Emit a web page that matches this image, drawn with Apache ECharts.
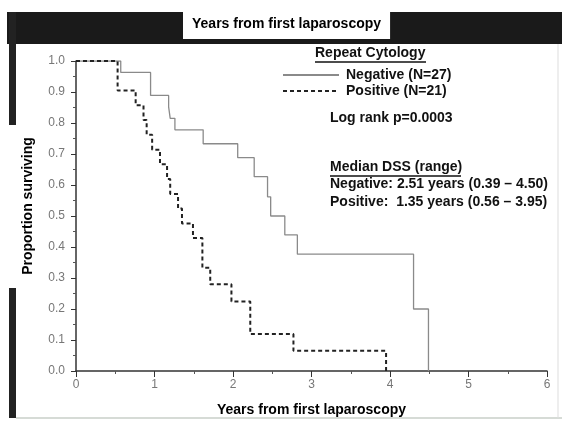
<!DOCTYPE html>
<html>
<head>
<meta charset="utf-8">
<script src="https://cdn.jsdelivr.net/npm/echarts@6/dist/echarts.min.js"></script>
<style>
  html, body { margin: 0; padding: 0; background: #fff; }
  #chart { width: 562px; height: 423px; }
</style>
</head>
<body>
<div id="chart"></div>
<script>
// Kaplan–Meier survival by repeat cytology result (years vs proportion surviving)
const negTimes  = [0, 0.57, 0.95, 1.18, 1.20, 1.26, 1.62, 2.06, 2.27, 2.44, 2.48, 2.66, 2.82, 4.30, 4.49];
const negSurv   = [1.0, 0.963, 0.889, 0.852, 0.815, 0.778, 0.733, 0.688, 0.627, 0.562, 0.500, 0.439, 0.377, 0.200, 0.0];
const posTimes  = [0, 0.53, 0.76, 0.86, 0.90, 0.97, 1.07, 1.16, 1.20, 1.30, 1.35, 1.49, 1.61, 1.71, 1.98, 2.22, 2.77, 3.95];
const posSurv   = [1.0, 0.905, 0.857, 0.810, 0.762, 0.714, 0.667, 0.619, 0.571, 0.524, 0.476, 0.429, 0.333, 0.280, 0.224, 0.119, 0.065, 0.0];
const seriesNames = ['Negative (N=27)', 'Positive (N=21)'];
const xTicks = [0, 1, 2, 3, 4, 5, 6];
const yTicks = [0.0, 0.1, 0.2, 0.3, 0.4, 0.5, 0.6, 0.7, 0.8, 0.9, 1.0];

const pairs = (xs, ys) => xs.map((x, i) => [x, ys[i]]);

const chart = echarts.init(document.getElementById('chart'), null, { renderer: 'canvas' });
const font = 'Liberation Sans, Arial, sans-serif';
const noteStyle = { fontFamily: font, fontSize: 14, fontWeight: 'bold', fill: '#111' };

chart.setOption({
  animation: false,
  backgroundColor: '#fff',
  title: {
    text: 'Years from first laparoscopy',
    left: 183, top: 9,
    padding: [8, 9, 8, 9],
    backgroundColor: '#fff',
    textStyle: { fontFamily: font, fontSize: 14, fontWeight: 'bold', color: '#000' }
  },
  legend: {
    orient: 'vertical',
    left: 277, top: 63,
    itemWidth: 56, itemHeight: 10, itemGap: 2,
    itemStyle: { opacity: 0 },
    textStyle: { fontFamily: font, fontSize: 14, fontWeight: 'bold', color: '#111', padding: [0, 0, 0, 2] },
    data: seriesNames
  },
  grid: { left: 76, top: 61, width: 471, height: 310 },
  xAxis: {
    type: 'value', min: xTicks[0], max: xTicks[xTicks.length - 1], interval: 1,
    name: 'Years from first laparoscopy', nameLocation: 'middle', nameGap: 32,
    nameTextStyle: { fontFamily: font, fontSize: 14, fontWeight: 'bold', color: '#000' },
    axisLine: { lineStyle: { color: '#333', width: 1.5 } },
    axisTick: { show: true, length: 6, lineStyle: { color: '#333' } },
    minorTick: { show: true, splitNumber: 2, length: 3, lineStyle: { color: '#555' } },
    axisLabel: { margin: 8, fontFamily: font, fontSize: 12, color: '#777' },
    splitLine: { show: false }
  },
  yAxis: {
    type: 'value', min: yTicks[0], max: yTicks[yTicks.length - 1], interval: 0.1,
    offset: 3,
    axisLine: { show: true, lineStyle: { color: '#333', width: 1.5 } },
    axisTick: { show: true, length: 5, lineStyle: { color: '#333' } },
    minorTick: { show: true, splitNumber: 2, length: 3, lineStyle: { color: '#555' } },
    axisLabel: { margin: 8, fontFamily: font, fontSize: 12, color: '#777', formatter: v => v.toFixed(1) },
    splitLine: { show: false }
  },
  series: [
    {
      name: seriesNames[0], type: 'line', step: 'end', symbol: 'none',
      data: pairs(negTimes, negSurv),
      lineStyle: { color: '#8a8a8a', width: 1.3, type: 'solid' },
      itemStyle: { color: '#8a8a8a' }
    },
    {
      name: seriesNames[1], type: 'line', step: 'end', symbol: 'none',
      data: pairs(posTimes, posSurv),
      lineStyle: { color: '#222', width: 2, type: [4, 3] },
      itemStyle: { color: '#222' }
    }
  ],
  graphic: [
    // dark frame band along the top and a strip down the left side
    { type: 'rect', z: -10, shape: { x: 7, y: 12, width: 555, height: 32 }, style: { fill: '#1a1a1a' } },
    { type: 'rect', z: -10, shape: { x: 9, y: 12, width: 7, height: 113 }, style: { fill: '#222' } },
    { type: 'rect', z: -10, shape: { x: 9, y: 288, width: 7, height: 130 }, style: { fill: '#222' } },
    { type: 'line', z: -10, shape: { x1: 16, y1: 418, x2: 562, y2: 418 }, style: { stroke: '#c8cfc8', lineWidth: 1.5 } },
    { type: 'line', z: -10, shape: { x1: 558, y1: 44, x2: 558, y2: 418 }, style: { stroke: '#ddd', lineWidth: 1 } },
    // vertical axis title
    { type: 'text', x: 28, y: 206, rotation: Math.PI / 2,
      style: { text: 'Proportion surviving', fontFamily: font, fontSize: 14, fontWeight: 'bold', fill: '#000', align: 'center', verticalAlign: 'middle' } },
    // annotation block
    { type: 'text', left: 315, top: 46, style: Object.assign({ text: 'Repeat Cytology' }, noteStyle) },
    { type: 'line', shape: { x1: 315, y1: 62, x2: 426, y2: 62 }, style: { stroke: '#111', lineWidth: 1.3 } },
    { type: 'text', left: 330, top: 111, style: Object.assign({ text: 'Log rank p=0.0003' }, noteStyle) },
    { type: 'text', left: 330, top: 160, style: Object.assign({ text: 'Median DSS (range)' }, noteStyle) },
    { type: 'line', shape: { x1: 330, y1: 176, x2: 461, y2: 176 }, style: { stroke: '#111', lineWidth: 1.3 } },
    { type: 'text', left: 330, top: 177, style: Object.assign({ text: 'Negative: 2.51 years (0.39 \u2013 4.50)' }, noteStyle) },
    { type: 'text', left: 330, top: 195, style: Object.assign({ text: 'Positive:  1.35 years (0.56 \u2013 3.95)' }, noteStyle) }
  ]
});
</script>
</body>
</html>
